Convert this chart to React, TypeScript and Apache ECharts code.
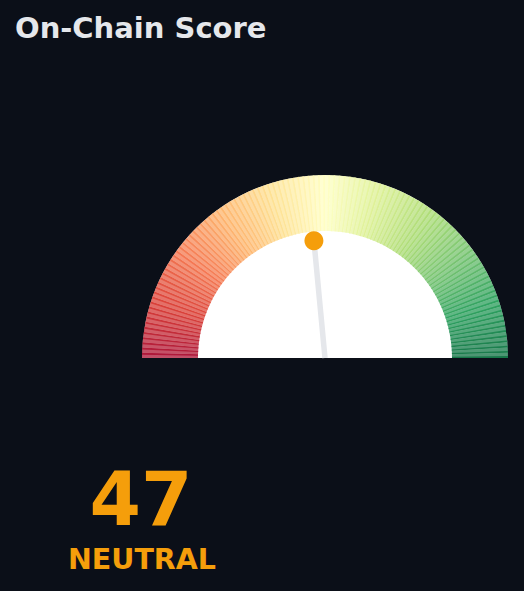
import React, { useEffect, useRef } from 'react';
import * as echarts from 'echarts';

const chartTitle = 'On-Chain Score';
const scoreValue = 47;
const scoreLabel = 'NEUTRAL';
const scaleMin = 0;
const scaleMax = 100;
const segmentCount = 110;

// RdYlGn style ramp used for the arc
const rampColors = [
  '#a50026', '#d73027', '#f46d43', '#fdae61', '#fee08b', '#ffffbf',
  '#d9ef8b', '#a6d96a', '#66bd63', '#1a9850', '#006837',
];

const BG = '#0b0f18';
const ACCENT = '#f59e0b';
const FONT = 'DejaVu Sans';

function hexToRgb(hex: string) {
  const n = parseInt(hex.slice(1), 16);
  return [(n >> 16) & 255, (n >> 8) & 255, n & 255];
}

function rampAt(t: number, alpha: number) {
  const pos = t * (rampColors.length - 1);
  const i = Math.min(Math.floor(pos), rampColors.length - 2);
  const f = pos - i;
  const a = hexToRgb(rampColors[i]);
  const b = hexToRgb(rampColors[i + 1]);
  const c = a.map((v, k) => Math.round(v + (b[k] - v) * f));
  return `rgba(${c[0]},${c[1]},${c[2]},${alpha})`;
}

const pieBase = {
  type: 'pie', silent: true, startAngle: 180, clockwise: true,
  label: { show: false }, labelLine: { show: false }, emphasis: { disabled: true },
};

const App: React.FC = () => {
  const chartRef = useRef<HTMLDivElement | null>(null);

  useEffect(() => {
    document.body.style.margin = '0';
    document.body.style.background = BG;
    if (!chartRef.current) return;
    const chart = echarts.init(chartRef.current, undefined, { renderer: 'svg' });

    const center = [325, 358];
    const outerR = 183;
    const innerR = 127;
    const tipR = 0.644;

    const bandData: any[] = [];
    const stripeData: any[] = [];
    for (let i = 0; i < segmentCount; i++) {
      const t = (i + 0.5) / segmentCount;
      bandData.push({ value: 1, itemStyle: { color: rampAt(t, 0.7) } });
      stripeData.push({ value: 0.64, itemStyle: { color: 'transparent' } });
      stripeData.push({ value: 0.36, itemStyle: { color: rampAt(t, 0.7) } });
    }
    bandData.push({ value: segmentCount, itemStyle: { color: 'transparent' } });
    stripeData.push({ value: segmentCount, itemStyle: { color: 'transparent' } });

    const option = {
      animation: false,
      backgroundColor: BG,
      polar: { center, radius: outerR },
      angleAxis: {
        type: 'value', min: scaleMin, max: scaleMax * 2,
        startAngle: 180, clockwise: true, show: false,
      },
      radiusAxis: { type: 'value', min: 0, max: 1, show: false },
      graphic: [
        {
          type: 'text', left: 15, top: 13,
          style: { text: chartTitle, fill: '#e5e7eb', font: `bold 29px "${FONT}"` },
        },
        {
          type: 'text', x: 141, y: 499,
          style: {
            text: String(scoreValue), fill: ACCENT, font: `bold 74px "${FONT}"`,
            textAlign: 'center', textVerticalAlign: 'middle',
          },
        },
        {
          type: 'text', x: 142, y: 559,
          style: {
            text: scoreLabel, fill: ACCENT, font: `bold 28.5px "${FONT}"`,
            textAlign: 'center', textVerticalAlign: 'middle',
          },
        },
      ],
      series: [
        {
          ...pieBase, z: 1, center, radius: [0, outerR],
          data: [
            { value: 1, itemStyle: { color: '#ffffff' } },
            { value: 1, itemStyle: { color: 'transparent' } },
          ],
        },
        { ...pieBase, z: 2, center, radius: [innerR, outerR], data: bandData },
        { ...pieBase, z: 3, center, radius: [innerR, outerR], data: stripeData },
        {
          type: 'line', coordinateSystem: 'polar', z: 4, silent: true,
          symbol: 'none',
          lineStyle: { color: '#e5e7eb', width: 5.5 },
          data: [[0, scoreValue], [tipR, scoreValue]],
        },
        {
          type: 'scatter', coordinateSystem: 'polar', z: 5, silent: true,
          symbolSize: 19,
          itemStyle: { color: ACCENT, opacity: 1 },
          data: [[tipR, scoreValue]],
        },
      ],
    };

    chart.setOption(option);
    return () => {
      chart.dispose();
    };
  }, []);

  return <div ref={chartRef} style={{ width: '524px', height: '591px', background: BG }} />;
};

export default App;
